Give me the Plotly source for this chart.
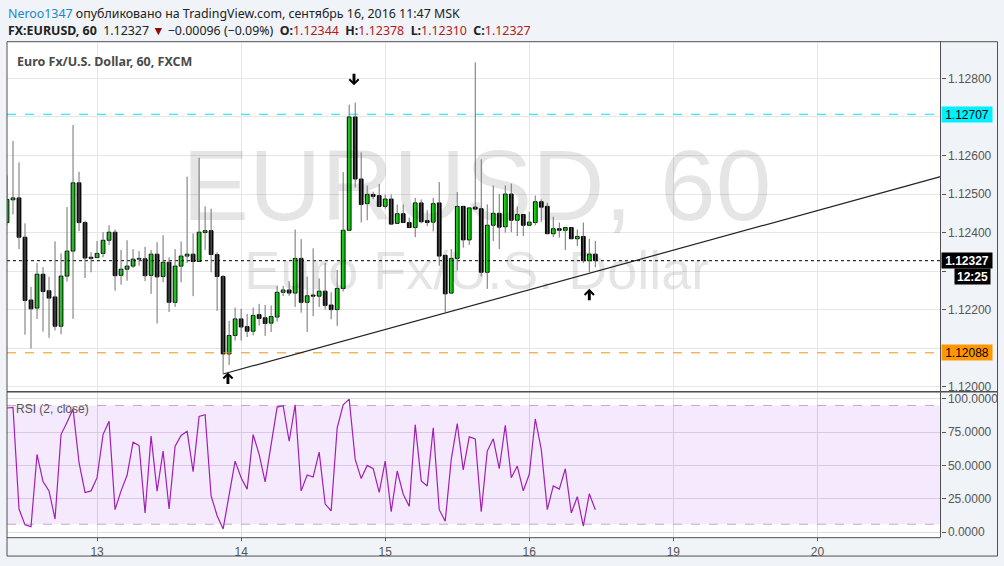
import plotly.graph_objects as go

# ---------------- data ----------------
# hourly bars; x = hour index counted from Sep 12 00:00 (MSK), weekend removed
hours = list(range(9, 108))

opens = [1.12426, 1.12485, 1.12490, 1.12388, 1.12225, 1.12204, 1.12292, 1.12249, 1.12233, 1.12157,
         1.12287, 1.12352, 1.12529, 1.12426, 1.12336, 1.12335, 1.12346, 1.12380, 1.12401, 1.12289,
         1.12305, 1.12313, 1.12331, 1.12332, 1.12289, 1.12344, 1.12286, 1.12323, 1.12219, 1.12313,
         1.12339, 1.12344, 1.12325, 1.12400, 1.12405, 1.12343, 1.12286, 1.12085, 1.12133, 1.12176,
         1.12156, 1.12144, 1.12187, 1.12179, 1.12165, 1.12181, 1.12245, 1.12251, 1.12243, 1.12333,
         1.12219, 1.12238, 1.12235, 1.12248, 1.12212, 1.12200, 1.12255, 1.12406, 1.12700, 1.12539,
         1.12475, 1.12499, 1.12496, 1.12468, 1.12487, 1.12424, 1.12449, 1.12426, 1.12413, 1.12477,
         1.12431, 1.12427, 1.12477, 1.12341, 1.12243, 1.12333, 1.12468, 1.12381, 1.12466, 1.12462,
         1.12297, 1.12419, 1.12450, 1.12415, 1.12500, 1.12432, 1.12447, 1.12419, 1.12426, 1.12480,
         1.12468, 1.12397, 1.12410, 1.12406, 1.12413, 1.12384, 1.12390, 1.12327, 1.12344]
highs = [1.12548, 1.12638, 1.12582, 1.12424, 1.12259, 1.12321, 1.12310, 1.12285, 1.12377, 1.12346,
         1.12466, 1.12679, 1.12558, 1.12431, 1.12349, 1.12378, 1.12401, 1.12419, 1.12408, 1.12355,
         1.12380, 1.12357, 1.12352, 1.12363, 1.12355, 1.12375, 1.12393, 1.12336, 1.12357, 1.12377,
         1.12545, 1.12398, 1.12594, 1.12468, 1.12462, 1.12349, 1.12290, 1.12171, 1.12205, 1.12202,
         1.12189, 1.12205, 1.12215, 1.12212, 1.12211, 1.12262, 1.12262, 1.12274, 1.12408, 1.12383,
         1.12286, 1.12359, 1.12281, 1.12321, 1.12245, 1.12303, 1.12557, 1.12732, 1.12737, 1.12608,
         1.12522, 1.12506, 1.12526, 1.12499, 1.12499, 1.12473, 1.12473, 1.12439, 1.12490, 1.12486,
         1.12458, 1.12490, 1.12531, 1.12341, 1.12357, 1.12505, 1.12468, 1.12464, 1.12842, 1.12590,
         1.12473, 1.12522, 1.12500, 1.12522, 1.12527, 1.12468, 1.12447, 1.12454, 1.12496, 1.12486,
         1.12477, 1.12441, 1.12426, 1.12413, 1.12413, 1.12408, 1.12426, 1.12384, 1.12378]
lows = [1.12421, 1.12447, 1.12357, 1.12135, 1.12099, 1.12176, 1.12143, 1.12127, 1.12146, 1.12136,
        1.12273, 1.12176, 1.12404, 1.12282, 1.12297, 1.12334, 1.12336, 1.12368, 1.12249, 1.12265,
        1.12275, 1.12308, 1.12314, 1.12274, 1.12241, 1.12164, 1.12271, 1.12194, 1.12207, 1.12271,
        1.12321, 1.12235, 1.12324, 1.12355, 1.12297, 1.12197, 1.12033, 1.12056, 1.12120, 1.12120,
        1.12129, 1.12133, 1.12159, 1.12132, 1.12142, 1.12169, 1.12235, 1.12236, 1.12207, 1.12192,
        1.12142, 1.12183, 1.12207, 1.12200, 1.12175, 1.12158, 1.12247, 1.12406, 1.12517, 1.12426,
        1.12432, 1.12487, 1.12468, 1.12462, 1.12422, 1.12424, 1.12426, 1.12413, 1.12388, 1.12424,
        1.12417, 1.12403, 1.12314, 1.12192, 1.12243, 1.12301, 1.12361, 1.12368, 1.12461, 1.12286,
        1.12254, 1.12378, 1.12357, 1.12400, 1.12401, 1.12391, 1.12391, 1.12419, 1.12419, 1.12428,
        1.12397, 1.12388, 1.12387, 1.12355, 1.12384, 1.12365, 1.12321, 1.12297, 1.12310]
closes = [1.12486, 1.12490, 1.12388, 1.12224, 1.12202, 1.12292, 1.12247, 1.12230, 1.12157, 1.12287,
          1.12352, 1.12529, 1.12426, 1.12334, 1.12333, 1.12346, 1.12380, 1.12401, 1.12288, 1.12305,
          1.12313, 1.12331, 1.12332, 1.12288, 1.12344, 1.12285, 1.12323, 1.12219, 1.12313, 1.12339,
          1.12344, 1.12325, 1.12401, 1.12405, 1.12343, 1.12286, 1.12085, 1.12133, 1.12176, 1.12155,
          1.12144, 1.12185, 1.12177, 1.12164, 1.12182, 1.12245, 1.12251, 1.12243, 1.12333, 1.12219,
          1.12236, 1.12235, 1.12248, 1.12211, 1.12200, 1.12255, 1.12406, 1.12700, 1.12539, 1.12473,
          1.12499, 1.12494, 1.12468, 1.12487, 1.12422, 1.12449, 1.12426, 1.12413, 1.12477, 1.12428,
          1.12426, 1.12475, 1.12339, 1.12241, 1.12333, 1.12468, 1.12381, 1.12464, 1.12461, 1.12297,
          1.12419, 1.12450, 1.12414, 1.12500, 1.12432, 1.12447, 1.12419, 1.12427, 1.12480, 1.12466,
          1.12397, 1.12410, 1.12406, 1.12413, 1.12384, 1.12390, 1.12327, 1.12344, 1.12327]
rsi = [93.1, 93.5, 17.4, 5.5, 4.2, 58.3, 38.0, 31.0, 9.9, 73.2,
       82.4, 92.3, 52.1, 29.8, 31.0, 40.9, 73.2, 83.1, 16.9, 31.0,
       42.7, 67.5, 65.0, 14.4, 72.0, 30.8, 60.8, 17.4, 64.5, 72.5,
       75.7, 45.4, 86.8, 88.1, 27.3, 12.4, 2.5, 28.5, 53.3, 40.9,
       32.3, 73.2, 58.3, 37.7, 67.0, 93.8, 94.8, 68.2, 95.5, 31.0,
       42.9, 41.4, 60.0, 21.1, 16.1, 78.2, 95.5, 99.8, 54.6, 40.2,
       50.1, 47.6, 29.8, 53.3, 15.4, 45.9, 28.5, 19.4, 80.6, 38.5,
       34.7, 78.2, 16.9, 8.2, 54.6, 81.4, 46.7, 71.5, 70.0, 15.4,
       60.8, 70.0, 47.6, 80.1, 40.9, 49.6, 31.0, 43.4, 84.9, 62.0,
       16.9, 34.7, 32.3, 47.6, 14.4, 26.6, 4.5, 28.8, 16.9]
assert len(opens) == len(highs) == len(lows) == len(closes) == len(rsi) == len(hours)

day_ticks = [24, 48, 72, 96, 120, 144]
day_labels = ["13", "14", "15", "16", "19", "20"]
price_ticks = [1.120, 1.121, 1.122, 1.123, 1.124, 1.125, 1.126, 1.127, 1.128]
price_hidden = [1.121, 1.123, 1.127]
rsi_ticks = [0, 25, 50, 75, 100]
rsi_band = [6, 95]

high_level = 1.12707
low_level = 1.12088
last_price = 1.12327
countdown = "12:25"

trend_hours = [45, 164.5]
trend_prices = [1.12033, 1.12545]

# signal arrows: position of the arrow tip and direction
arrow_hours = [66.8, 45.8, 106.0]
arrow_prices = [1.12782, 1.12037, 1.12254]
arrow_dirs = ["down", "up", "up"]

# ---------------- layout geometry ----------------
W, H = 1004, 566
def PX(x): return x / W
def PY(y): return 1 - y / H

x_range = [9.0, 164.5]
p_range = [1.119883, 1.128953]
r_range = [-3.72, 104.2]

fig = go.Figure()

# watermark (drawn first so it sits behind the candles)
wm_x = (x_range[0] + x_range[1]) / 2 + 0.5
fig.add_trace(go.Scatter(x=[wm_x], y=[p_range[0] + 0.562 * (p_range[1] - p_range[0])],
                         mode="text", text=["EURUSD, 60"], textposition="middle center",
                         textfont=dict(size=100, color="rgba(0,0,0,0.10)", family="Liberation Sans"),
                         hoverinfo="skip", showlegend=False))
fig.add_trace(go.Scatter(x=[wm_x], y=[p_range[0] + 0.33 * (p_range[1] - p_range[0])],
                         mode="text", text=["Euro Fx/U.S. Dollar"], textposition="middle center",
                         textfont=dict(size=54, color="rgba(0,0,0,0.10)", family="Liberation Sans"),
                         hoverinfo="skip", showlegend=False))

# horizontal levels
for lvl, col, dash in [(high_level, "#00e5f5", "dash"), (low_level, "#f39212", "dash"),
                       (last_price, "#000000", "dot")]:
    fig.add_trace(go.Scatter(x=x_range, y=[lvl, lvl], mode="lines",
                             line=dict(color=col, width=1, dash=dash),
                             hoverinfo="skip", showlegend=False))

# trend line
fig.add_trace(go.Scatter(x=trend_hours, y=trend_prices, mode="lines",
                         line=dict(color="#222222", width=1.2), hoverinfo="skip", showlegend=False))

# wicks
wx, wy = [], []
for h, lo, hi in zip(hours, lows, highs):
    wx += [h, h, None]
    wy += [lo, hi, None]
fig.add_trace(go.Scatter(x=wx, y=wy, mode="lines", line=dict(color="#707070", width=1),
                         hoverinfo="skip", showlegend=False))

# bodies
MINH = 0.00002
up_x, up_b, up_h, dn_x, dn_b, dn_h = [], [], [], [], [], []
for h, o, c in zip(hours, opens, closes):
    b = min(o, c)
    hh = max(abs(c - o), MINH)
    if c >= o:
        up_x.append(h); up_b.append(b); up_h.append(hh)
    else:
        dn_x.append(h); dn_b.append(b); dn_h.append(hh)
fig.add_trace(go.Bar(x=up_x, y=up_h, base=up_b, width=0.62,
                     marker=dict(color="#00ee00", line=dict(color="#000000", width=1)),
                     showlegend=False, hoverinfo="skip"))
fig.add_trace(go.Bar(x=dn_x, y=dn_h, base=dn_b, width=0.62,
                     marker=dict(color="#000000", line=dict(color="#000000", width=1)),
                     showlegend=False, hoverinfo="skip"))

# RSI pane: band fill and band lines
fig.add_trace(go.Scatter(x=[x_range[0], x_range[1], x_range[1], x_range[0], x_range[0]],
                         y=[rsi_band[0], rsi_band[0], rsi_band[1], rsi_band[1], rsi_band[0]],
                         mode="lines", fill="toself", fillcolor="rgba(160,40,240,0.10)",
                         line=dict(width=0), xaxis="x2", yaxis="y2",
                         hoverinfo="skip", showlegend=False))
for lvl in rsi_band:
    fig.add_trace(go.Scatter(x=x_range, y=[lvl, lvl], mode="lines",
                             line=dict(color="#c2a9cc", width=1, dash="dash"),
                             xaxis="x2", yaxis="y2", hoverinfo="skip", showlegend=False))
fig.add_trace(go.Scatter(x=hours, y=rsi, mode="lines", line=dict(color="#a020b4", width=1.2),
                         xaxis="x2", yaxis="y2", hoverinfo="skip", showlegend=False))

axis_font = dict(family="Liberation Sans, Arial", size=12, color="#555555")

fig.update_layout(
    width=W, height=H, margin=dict(l=0, r=0, t=0, b=0),
    paper_bgcolor="#f0f3f7", plot_bgcolor="#ffffff",
    barmode="overlay", showlegend=False,
    xaxis=dict(domain=[PX(7), PX(940.5)], range=x_range, anchor="y",
               tickvals=day_ticks, showticklabels=False, ticks="",
               showgrid=True, gridcolor="#e6e6e6", gridwidth=1, zeroline=False, showline=False),
    xaxis2=dict(domain=[PX(7), PX(940.5)], range=x_range, anchor="y2", matches="x",
                tickvals=day_ticks, ticktext=day_labels, ticks="outside", ticklen=3,
                tickcolor="#555555", tickfont=axis_font,
                showgrid=True, gridcolor="#e3d9e8", gridwidth=1, zeroline=False, showline=False),
    yaxis=dict(domain=[PY(393), PY(41)], range=p_range, side="right", anchor="x",
               tickvals=price_ticks,
               ticktext=["" if t in price_hidden else f"{t:.5f}" for t in price_ticks],
               ticks="outside", ticklen=4, tickcolor="#555555", tickfont=axis_font,
               showgrid=True, gridcolor="#e6e6e6", zeroline=False, showline=False),
    yaxis2=dict(domain=[PY(540), PY(395)], range=r_range, side="right", anchor="x2",
                tickvals=rsi_ticks, ticktext=[f"{t:.4f}" for t in rsi_ticks],
                ticks="outside", ticklen=4, tickcolor="#555555", tickfont=axis_font,
                showgrid=True, gridcolor="#e3d9e8", zeroline=False, showline=False),
)

# frame
shapes = [
    dict(type="rect", xref="paper", yref="paper", x0=PX(7), x1=PX(997.5), y0=PY(559), y1=PY(41),
         line=dict(color="#505050", width=1), fillcolor="rgba(0,0,0,0)", layer="above"),
    dict(type="line", xref="paper", yref="paper", x0=PX(940.5), x1=PX(940.5), y0=PY(540), y1=PY(41),
         line=dict(color="#505050", width=1), layer="above"),
    dict(type="line", xref="paper", yref="paper", x0=PX(7), x1=PX(940.5), y0=PY(540.5), y1=PY(540.5),
         line=dict(color="#505050", width=1), layer="above"),
    dict(type="line", xref="paper", yref="paper", x0=PX(7), x1=PX(997.5), y0=PY(393.5), y1=PY(393.5),
         line=dict(color="#505050", width=1.5), layer="above"),
]
fig.update_layout(shapes=shapes)

hdr_font = dict(family="Noto Sans", size=12.4, color="#222222")
ann = []
ann.append(dict(xref="paper", yref="paper", x=PX(6), y=PY(12.5), xanchor="left", yanchor="middle",
                showarrow=False, font=hdr_font,
                text="<span style='color:#2286c8'>Neroo1347</span> опубликовано на TradingView.com, "
                     "сентябрь 16, 2016 11:47 MSK"))
red = "#b01c1c"
line2 = (f"<b>FX:EURUSD, 60</b>  1.12327 <span style='color:#8b0a0a'>▼</span> "
         f"−0.00096 (−0.09%)  <b>O:</b><span style='color:{red}'>1.12344</span>  "
         f"<b>H:</b><span style='color:{red}'>1.12378</span>  "
         f"<b>L:</b><span style='color:{red}'>1.12310</span>  "
         f"<b>C:</b><span style='color:{red}'>1.12327</span>")
ann.append(dict(xref="paper", yref="paper", x=PX(6), y=PY(30), xanchor="left", yanchor="middle",
                showarrow=False, font=hdr_font, text=line2))
ann.append(dict(xref="paper", yref="paper", x=PX(15), y=PY(61), xanchor="left", yanchor="middle",
                showarrow=False, font=dict(family="Noto Sans", size=12.5, color="#4a4a4a"),
                text="<b>Euro Fx/U.S. Dollar, 60, FXCM</b>"))
ann.append(dict(xref="paper", yref="paper", x=PX(14), y=PY(410.5), xanchor="left", yanchor="middle",
                showarrow=False, font=dict(family="Liberation Sans, Arial", size=12, color="#555555"),
                text="RSI (2, close)"))

# price labels on the right axis
for lvl, bg, fc, bold in [(high_level, "#00f0ff", "#000000", False),
                          (low_level, "#ff9800", "#000000", False),
                          (last_price, "#000000", "#ffffff", True)]:
    t = f"{lvl:.5f}"
    ann.append(dict(xref="paper", yref="y", x=PX(941), y=lvl, xanchor="left", yanchor="middle",
                    showarrow=False, bgcolor=bg, borderpad=1, width=48, height=13, align="center",
                    font=dict(family="Liberation Sans, Arial", size=12, color=fc),
                    text=f"<b>{t}</b>" if bold else t))
ann.append(dict(xref="paper", yref="y", x=PX(991), y=last_price, xanchor="right", yanchor="top",
                yshift=-7, showarrow=False, bgcolor="#000000", borderpad=1, width=33, height=13,
                font=dict(family="Liberation Sans, Arial", size=12, color="#ffffff"),
                text=f"<b>{countdown}</b>"))

# arrows drawn with annotation arrows (chevron head)
for h, p, d in zip(arrow_hours, arrow_prices, arrow_dirs):
    ann.append(dict(xref="x", yref="y", x=h, y=p, text="", showarrow=True,
                    ax=0, ay=(-13 if d == "down" else 13), arrowhead=4, arrowsize=0.62,
                    arrowwidth=2.9, arrowcolor="#000000", standoff=0))

fig.update_layout(annotations=ann)

fig.write_html("out.html", config={"displayModeBar": False},
               post_script="document.body.style.margin='0';document.body.style.padding='0';")
